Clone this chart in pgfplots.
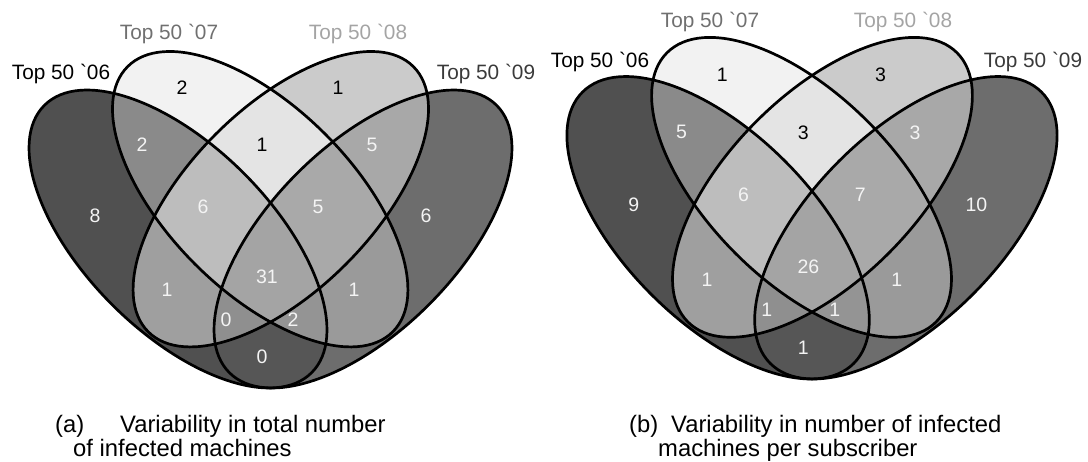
\documentclass[border=0pt]{standalone}
\usepackage{fontspec}
\setmainfont{Liberation Sans}
\usepackage{pgfplots}
\usepackage{pgfplotstable}
\pgfplotsset{compat=1.18}

% region shades (A = '06, B = '07, C = '08, D = '09)
\definecolor{rA}{HTML}{505050}
\definecolor{rB}{HTML}{F2F2F2}
\definecolor{rC}{HTML}{CBCBCB}
\definecolor{rD}{HTML}{6D6D6D}
\definecolor{rAB}{HTML}{8A8A8A}
\definecolor{rAC}{HTML}{9F9F9F}
\definecolor{rAD}{HTML}{565656}
\definecolor{rBC}{HTML}{E4E4E4}
\definecolor{rBD}{HTML}{9A9A9A}
\definecolor{rCD}{HTML}{A8A8A8}
\definecolor{rABC}{HTML}{BDBDBD}
\definecolor{rABD}{HTML}{949494}
\definecolor{rACD}{HTML}{8F8F8F}
\definecolor{rBCD}{HTML}{A9A9A9}
\definecolor{rABCD}{HTML}{A4A4A4}
\definecolor{lab07}{HTML}{707070}
\definecolor{lab08}{HTML}{A4A4A4}
\definecolor{lab09}{HTML}{3A3A3A}
\definecolor{numwhite}{HTML}{F4F4F4}

\newcommand\numfont{\fontsize{19.5}{21}\selectfont}
\newcommand\setfont{\fontsize{20.8}{23}\selectfont}
\newcommand\capfont{\fontsize{23.8}{26}\selectfont}

% the four ellipses, in panel units (origin at the lower tip)
\tikzset{
  eA/.style={rotate around={-45:(axis cs:-92.5,150)}},
  eB/.style={rotate around={-45:(axis cs:-10.3,189.8)}},
  eC/.style={rotate around={45:(axis cs:10.3,189.8)}},
  eD/.style={rotate around={45:(axis cs:92.5,150)}},
}
\def\pA{(axis cs:-92.5,150) ellipse [x radius=189, y radius=93]}
\def\pB{(axis cs:-10.3,189.8) ellipse [x radius=187.5, y radius=92]}
\def\pC{(axis cs:10.3,189.8) ellipse [x radius=187.5, y radius=92]}
\def\pD{(axis cs:92.5,150) ellipse [x radius=189, y radius=93]}

% every region gets its own shade: paint single sets, then pairs, triples, all four
\newcommand\venndiagram{%
  \pgfplotsextra{%
    \fill[rA,eA]\pA; \fill[rB,eB]\pB; \fill[rC,eC]\pC; \fill[rD,eD]\pD;
    \begin{scope}\clip[eA]\pA; \fill[rAB,eB]\pB; \end{scope}
    \begin{scope}\clip[eA]\pA; \fill[rAC,eC]\pC; \end{scope}
    \begin{scope}\clip[eA]\pA; \fill[rAD,eD]\pD; \end{scope}
    \begin{scope}\clip[eB]\pB; \fill[rBC,eC]\pC; \end{scope}
    \begin{scope}\clip[eB]\pB; \fill[rBD,eD]\pD; \end{scope}
    \begin{scope}\clip[eC]\pC; \fill[rCD,eD]\pD; \end{scope}
    \begin{scope}\clip[eA]\pA; \clip[eB]\pB; \fill[rABC,eC]\pC; \end{scope}
    \begin{scope}\clip[eA]\pA; \clip[eB]\pB; \fill[rABD,eD]\pD; \end{scope}
    \begin{scope}\clip[eA]\pA; \clip[eC]\pC; \fill[rACD,eD]\pD; \end{scope}
    \begin{scope}\clip[eB]\pB; \clip[eC]\pC; \fill[rBCD,eD]\pD; \end{scope}
    \begin{scope}\clip[eA]\pA; \clip[eB]\pB; \clip[eC]\pC; \fill[rABCD,eD]\pD; \end{scope}
    \draw[line width=2.7pt,eA]\pA; \draw[line width=2.7pt,eB]\pB;
    \draw[line width=2.7pt,eC]\pC; \draw[line width=2.7pt,eD]\pD;
  }%
}

\pgfplotsset{
  venn panel/.style={hide axis, clip=false, anchor=origin, scale only axis},
  region count/.style={draw=none, mark=none, nodes near coords,
    nodes near coords align={center}, point meta=explicit symbolic,
    every node near coord/.append style={font=\numfont, text=#1, inner sep=0pt}},
}

% counts per region: x y count
\pgfplotstableread{
x      y    v
-88.5  301  2
67.5   301  1
-8.5   244  1
}\totalDark
\pgfplotstableread{
x      y    v
-128.5 244  2
101.5  244  5
-175.5 173  8
-67.5  182  6
47.5   182  5
155.5  173  6
-103.5 99   1
-3.5   112  31
83.5   99   1
-44.5  69   0
22.5   69   2
-8.5   32   0
}\totalLight
\pgfplotstableread{
x      y    v
-88.5  301  1
67.5   301  3
-8.5   244  3
}\subDark
\pgfplotstableread{
x      y    v
-128.5 244  5
101.5  244  3
-175.5 173  9
-67.5  182  6
47.5   182  7
162    173  10
-103.5 99   1
-3.5   112  26
83.5   99   1
-44.5  69   1
22.5   69   1
-8.5   32   1
}\subLight

\begin{document}
\begin{tikzpicture}
\useasboundingbox (0,0) rectangle (1088pt,461pt);

% (a) total number of infected machines
\begin{axis}[venn panel, at={(270.5pt,72pt)}, x=1pt, y=1pt,
  xmin=-270, xmax=273, ymin=-72, ymax=389]
  \venndiagram
  \addplot[region count=black] table[meta=v] {\totalDark};
  \addplot[region count=numwhite] table[meta=v] {\totalLight};
\end{axis}

% (b) infected machines per subscriber
\begin{axis}[venn panel, at={(812pt,81pt)}, x=1.015pt, y=1.015pt,
  xmin=-264, xmax=271, ymin=-79, ymax=374]
  \venndiagram
  \addplot[region count=black] table[meta=v] {\subDark};
  \addplot[region count=numwhite] table[meta=v] {\subLight};
\end{axis}

% set names
\begin{scope}[every node/.style={font=\setfont, anchor=base, inner sep=0pt}]
\node[text=black] at (61pt,381pt) {Top 50 \textasciigrave06};
\node[text=lab07] at (169pt,421pt) {Top 50 \textasciigrave07};
\node[text=lab08] at (358pt,421pt) {Top 50 \textasciigrave08};
\node[text=lab09] at (486pt,381pt) {Top 50 \textasciigrave09};
\node[text=black] at (600pt,393pt) {Top 50 \textasciigrave06};
\node[text=lab07] at (710pt,433pt) {Top 50 \textasciigrave07};
\node[text=lab08] at (903pt,433pt) {Top 50 \textasciigrave08};
\node[text=lab09] at (1033pt,393pt) {Top 50 \textasciigrave09};
\end{scope}

% sub-captions
\begin{scope}[every node/.style={font=\capfont, anchor=base west, inner sep=0pt}]
\node at (55pt,29pt) {(a)};
\node at (120pt,29pt) {Variability in total number};
\node at (73pt,4.5pt) {of infected machines};
\node at (629pt,29pt) {(b)};
\node at (671pt,29pt) {Variability in number of infected};
\node at (658pt,4.5pt) {machines per subscriber};
\end{scope}
\end{tikzpicture}
\end{document}
